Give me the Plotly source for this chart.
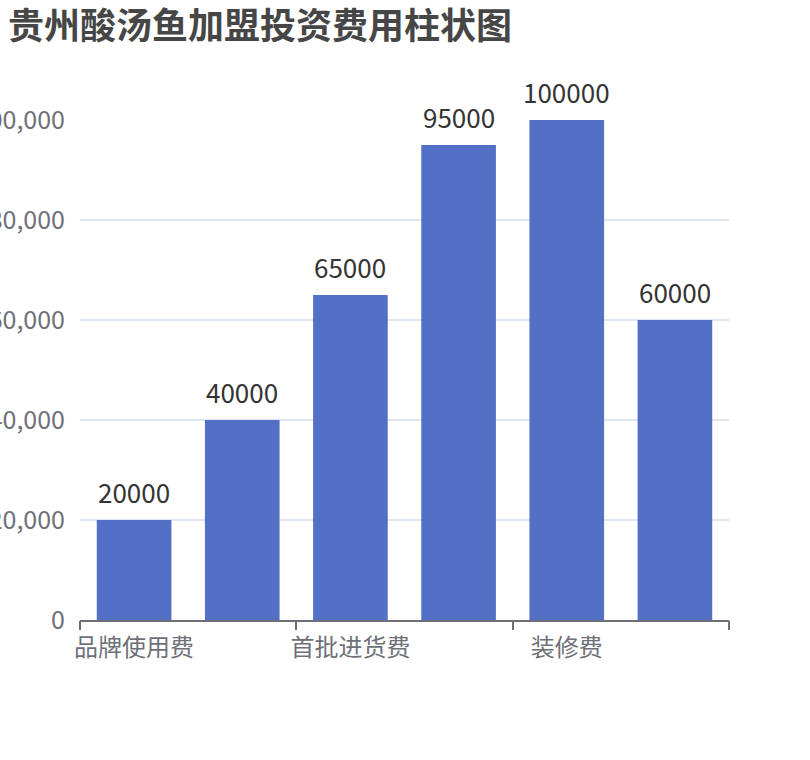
import plotly.graph_objects as go

# data
categories = ["品牌使用费", "加盟费", "首批进货费", "设备费", "装修费", "流动资金"]
values = [20000, 40000, 65000, 95000, 100000, 60000]
shown_labels = ["品牌使用费", "首批进货费", "装修费"]
y_ticks = [0, 20000, 40000, 60000, 80000, 100000]

FONT = "Noto Sans CJK SC"
BAR_COLOR = "#5470c6"
AXIS_COLOR = "#6E7079"

fig = go.Figure()

fig.add_trace(go.Bar(
    x=categories,
    y=values,
    marker=dict(color=BAR_COLOR, line=dict(width=0)),
    width=0.69,
    hovertemplate="%{x}: %{y}<extra></extra>",
    showlegend=False
))

# invisible trace so the tick-only axis is drawn
fig.add_trace(go.Scatter(
    x=[-0.5, 5.5], y=[0, 0], xaxis="x2",
    mode="markers", marker=dict(opacity=0), hoverinfo="skip", showlegend=False
))

# value labels above bars
for c, v in zip(categories, values):
    fig.add_annotation(
        x=c, y=v, text=str(v), showarrow=False,
        yanchor="bottom", yshift=8,
        font=dict(family=FONT, size=26, color="#333333")
    )

fig.update_layout(
    width=810, height=760,
    margin=dict(l=80, r=81, t=120, b=140, autoexpand=False),
    paper_bgcolor="white", plot_bgcolor="white",
    font=dict(family=FONT),
    title=dict(
        text="<b>贵州酸汤鱼加盟投资费用柱状图</b>",
        x=8 / 810, xanchor="left", xref="container",
        y=1 - 14 / 760, yanchor="top", yref="container",
        font=dict(family=FONT, size=36, color="#464646")
    ),
    xaxis=dict(
        type="category",
        range=[-0.5, 5.5],
        tickvals=shown_labels,
        ticktext=shown_labels,
        ticks="",
        showline=True, linecolor=AXIS_COLOR, linewidth=2,
        showgrid=False, zeroline=False,
        tickfont=dict(family=FONT, size=24, color=AXIS_COLOR),
        ticklabelstandoff=5,
        automargin=False
    ),
    xaxis2=dict(
        overlaying="x", anchor="y", side="bottom",
        range=[-0.5, 5.5],
        tickvals=[-0.5, 1.5, 3.5, 5.5],
        ticks="outside", ticklen=9, tickwidth=2, tickcolor=AXIS_COLOR,
        showticklabels=False, showgrid=False, zeroline=False, showline=False
    ),
    yaxis=dict(
        range=[0, 100000],
        tickvals=y_ticks,
        tickformat=",",
        showgrid=True, gridcolor="#E0E6F1", gridwidth=2,
        zeroline=False, showline=False, ticks="",
        tickfont=dict(family=FONT, size=25, color=AXIS_COLOR),
        ticklabelstandoff=14,
        automargin=False
    ),
    bargap=0.31
)

# drop the default page margin so the chart sits at the window corner
fig.write_html(
    "out.html",
    config={"displayModeBar": False},
    post_script="document.body.style.margin = '0px';"
)
